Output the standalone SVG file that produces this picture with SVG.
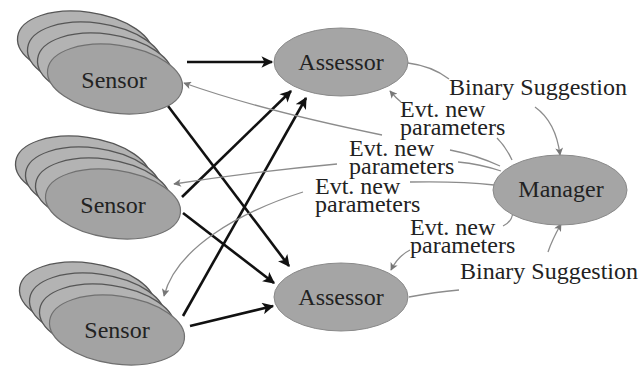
<svg xmlns="http://www.w3.org/2000/svg" width="644" height="369" viewBox="0 0 644 369">
<defs>
<style>
.back{fill:#b3b3b3;stroke:#555;stroke-width:1.3}
.front{fill:#a3a3a3;stroke:#707070;stroke-width:1.2}
.node{fill:#a5a5a5;stroke:#8a8a8a;stroke-width:1}
.nt{font-size:24px;fill:#222;text-anchor:middle}
.lt{font-size:24px;fill:#222}
.blk{fill:none;stroke:#111;stroke-width:2.6;marker-end:url(#ab)}
.gry{fill:none;stroke:#8c8c8c;stroke-width:1.3}
.gra{fill:none;stroke:#8c8c8c;stroke-width:1.3;marker-end:url(#ag)}
</style>
<marker id="ab" viewBox="0 0 10 10" refX="9" refY="5" markerWidth="5" markerHeight="4.5" orient="auto" markerUnits="strokeWidth">
<path d="M0,0 L10,5 L0,10 L2.5,5 Z" fill="#111"/>
</marker>
<marker id="ag" viewBox="0 0 10 10" refX="9" refY="5" markerWidth="7" markerHeight="6" orient="auto" markerUnits="strokeWidth">
<path d="M0,0 L10,5 L0,10 L2.5,5 Z" fill="#777"/>
</marker>
</defs>
<rect width="644" height="369" fill="#fff"/>

<g id="connectors">
<path class="blk" d="M187,62 L272,62"/>
<path class="blk" d="M168,106 L289,266"/>
<path class="blk" d="M182,197 L291,91"/>
<path class="blk" d="M183,213 L274,283"/>
<path class="blk" d="M183,316 L306,98"/>
<path class="blk" d="M190,326 L273,306"/>
<path class="gry" d="M408,63 Q432,66 449,79"/>
<path class="gra" d="M535,107 Q556,122 560,155"/>
<path class="gry" d="M512,160 Q506,147 497,138"/>
<path class="gra" d="M401,102 Q396,98 390,91"/>
<path class="gry" d="M500,166 Q476,155 450,150"/>
<path class="gry" d="M501,171 Q480,164 458,162"/>
<path class="gra" d="M382,135 Q260,110 184,83"/>
<path class="gra" d="M337,164 Q260,171 174,184"/>
<path class="gry" d="M494,185 Q460,181 410,182"/>
<path class="gra" d="M303,192 C240,212 176,248 164,296"/>
<path class="gry" d="M513,212 Q512,222 503,226"/>
<path class="gra" d="M410,250 Q398,256 391,270"/>
<path class="gry" d="M409,297 Q435,292 459,290"/>
<path class="gra" d="M548,252 Q552,240 561,224"/>
</g>

<g font-family="Liberation Serif, Times New Roman, serif">
<g id="sensor1">
<ellipse class="back" cx="85" cy="46" rx="68" ry="34" transform="rotate(8 85 46)"/>
<ellipse class="back" cx="95" cy="57" rx="68" ry="34" transform="rotate(8 95 57)"/>
<ellipse class="back" cx="105" cy="68" rx="68" ry="34" transform="rotate(8 105 68)"/>
<ellipse class="front" cx="115" cy="79" rx="68" ry="34" transform="rotate(8 115 79)"/>
<text class="nt" x="114" y="88" font-family="Liberation Serif">Sensor</text>
</g>
<g id="sensor2">
<ellipse class="back" cx="83" cy="171" rx="68" ry="34" transform="rotate(8 83 171)"/>
<ellipse class="back" cx="93" cy="182" rx="68" ry="34" transform="rotate(8 93 182)"/>
<ellipse class="back" cx="103" cy="193" rx="68" ry="34" transform="rotate(8 103 193)"/>
<ellipse class="front" cx="113" cy="204" rx="68" ry="34" transform="rotate(8 113 204)"/>
<text class="nt" x="113" y="213" font-family="Liberation Serif">Sensor</text>
</g>
<g id="sensor3">
<ellipse class="back" cx="87" cy="297" rx="68" ry="34" transform="rotate(8 87 297)"/>
<ellipse class="back" cx="97" cy="308" rx="68" ry="34" transform="rotate(8 97 308)"/>
<ellipse class="back" cx="107" cy="319" rx="68" ry="34" transform="rotate(8 107 319)"/>
<ellipse class="front" cx="117" cy="330" rx="68" ry="34" transform="rotate(8 117 330)"/>
<text class="nt" x="117" y="338" font-family="Liberation Serif">Sensor</text>
</g>
<g id="assessor1">
<ellipse class="node" cx="341" cy="62" rx="67" ry="34"/>
<text class="nt" x="341" y="70" font-family="Liberation Serif">Assessor</text>
</g>
<g id="assessor2">
<ellipse class="node" cx="341" cy="297" rx="67" ry="34"/>
<text class="nt" x="341" y="305" font-family="Liberation Serif">Assessor</text>
</g>
<g id="manager">
<ellipse class="node" cx="560" cy="190" rx="67" ry="35"/>
<text class="nt" x="561" y="197" font-family="Liberation Serif">Manager</text>
</g>

<g id="labels" font-family="Liberation Serif">
<text class="lt" x="449" y="95">Binary Suggestion</text>
<text class="lt" x="400" y="117">Evt. new</text>
<text class="lt" x="400" y="135">parameters</text>
<text class="lt" x="349" y="156">Evt. new</text>
<text class="lt" x="349" y="174">parameters</text>
<text class="lt" x="315" y="194">Evt. new</text>
<text class="lt" x="315" y="212">parameters</text>
<text class="lt" x="410" y="235">Evt. new</text>
<text class="lt" x="410" y="253">parameters</text>
<text class="lt" x="460" y="279">Binary Suggestion</text>
</g>
</g>
</svg>
